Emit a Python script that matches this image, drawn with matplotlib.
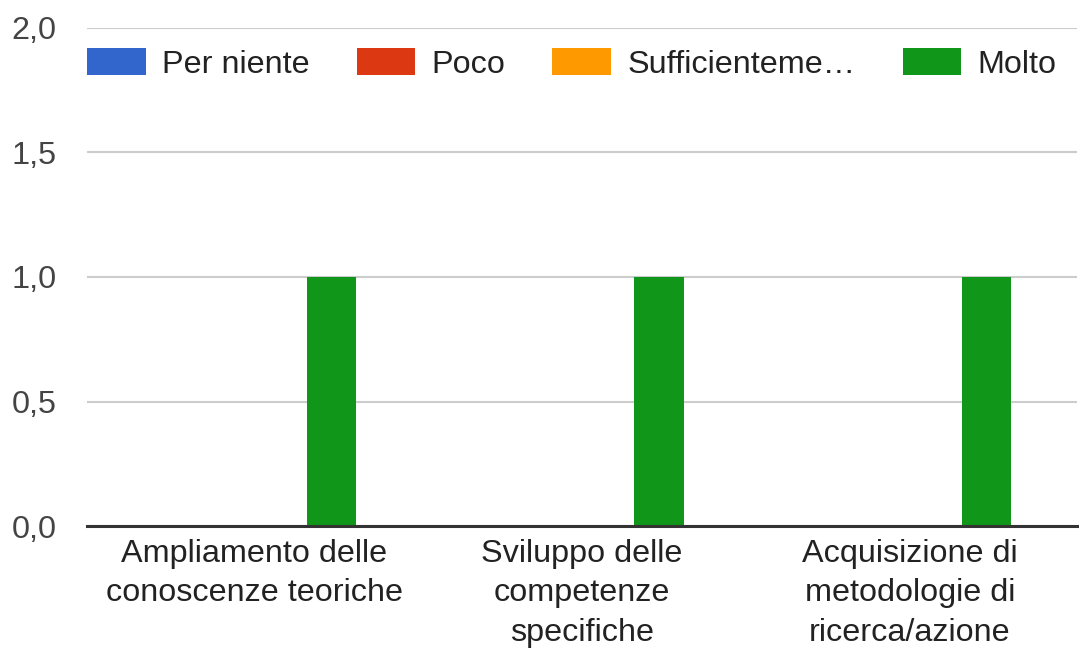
import matplotlib.pyplot as plt
import numpy as np
from matplotlib.ticker import FuncFormatter

plt.rcParams['font.family'] = ['Liberation Sans', 'DejaVu Sans']

categories = ['Ampliamento delle\nconoscenze teoriche',
              'Sviluppo delle\ncompetenze\nspecifiche',
              'Acquisizione di\nmetodologie di\nricerca/azione']
series_names = ['Per niente', 'Poco', 'Sufficienteme\u2026', 'Molto']
per_niente = [0, 0, 0]
poco = [0, 0, 0]
sufficientemente = [0, 0, 0]
molto = [1, 1, 1]
colors = ['#3366cc', '#dc3912', '#ff9900', '#109618']

fs = 23.3

fig = plt.figure(figsize=(10.79, 6.49), dpi=100)
ax = fig.add_axes([0.0806, 0.1895, 0.9175, 0.7674])

x = np.arange(len(categories))
w = 0.15
for i, (vals, name, c) in enumerate(zip([per_niente, poco, sufficientemente, molto], series_names, colors)):
    ax.bar(x + (i - 1.5) * w + 0.01, vals, width=w, color=c, label=name, linewidth=0, zorder=3)

ax.set_xlim(-0.51, 2.51)
ax.set_ylim(0, 2)
ax.set_yticks([0, 0.5, 1, 1.5, 2])
ax.yaxis.set_major_formatter(FuncFormatter(lambda v, p: f'{v:.1f}'.replace('.', ',')))
ax.set_xticks(x)
ax.set_xticklabels(categories, fontsize=fs, color='#222222', linespacing=1.42)

ax.grid(axis='y', color='#cccccc', linewidth=1.5, zorder=0)
ax.axhline(0, color='#333333', linewidth=2.2, zorder=4, clip_on=False)
for s in ax.spines.values():
    s.set_visible(False)
ax.tick_params(axis='y', length=0, pad=22, labelsize=fs, labelcolor='#444444')
ax.tick_params(axis='x', length=0, pad=9)

ax.legend(loc='center left', bbox_to_anchor=(0, 0.928), ncol=4, frameon=False,
          fontsize=fs, handlelength=1.82, handleheight=0.9, handletextpad=0.5,
          columnspacing=1.45, borderpad=0, borderaxespad=0, labelcolor='#222222')

fig.savefig('out.png', dpi=100)
